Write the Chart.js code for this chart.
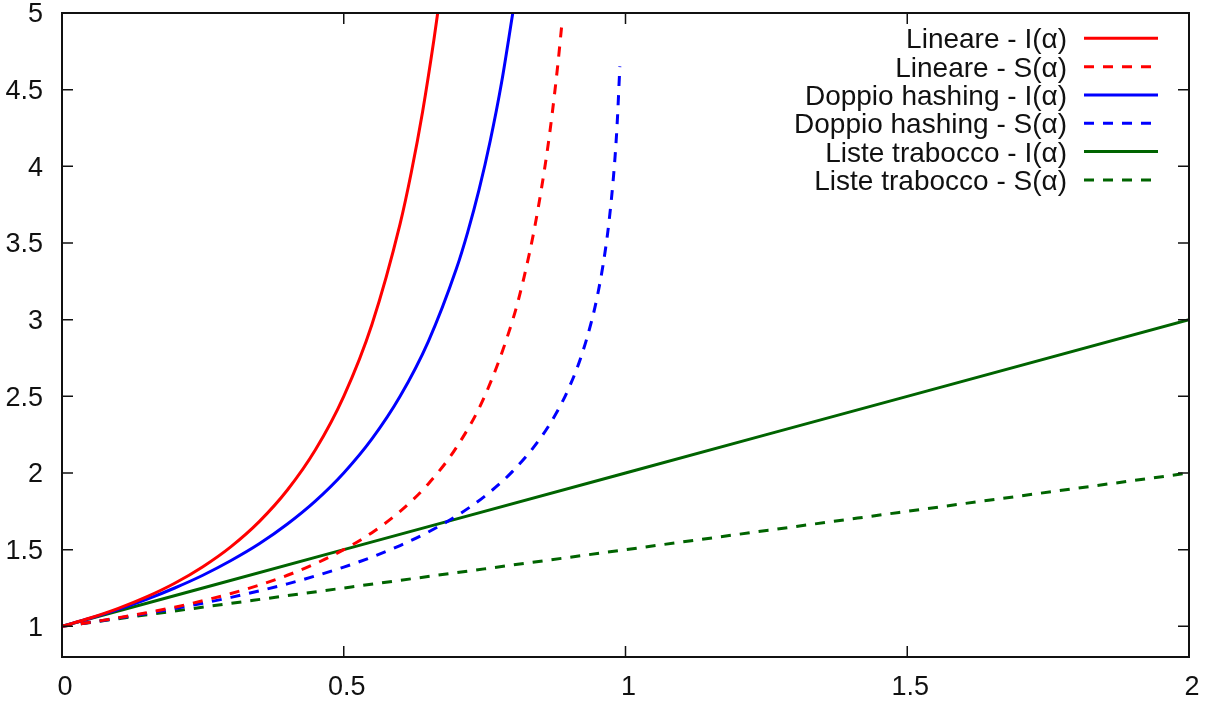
<!DOCTYPE html>
<html><head><meta charset="utf-8">
<script src="https://cdn.jsdelivr.net/npm/chart.js@4"></script>
<style>html,body{margin:0;padding:0;background:#fff}#wrap{width:1210px;height:703px}canvas{display:block}</style>
</head><body><div id="wrap"><canvas id="c" width="1210" height="703"></canvas></div>
<script>
// ---- data ----
const xTicks = [0, 0.5, 1, 1.5, 2];
const yTicks = [1, 1.5, 2, 2.5, 3, 3.5, 4, 4.5, 5];
const seriesLabels = [
  'Lineare - I(\u03b1)', 'Lineare - S(\u03b1)',
  'Doppio hashing - I(\u03b1)', 'Doppio hashing - S(\u03b1)',
  'Liste trabocco - I(\u03b1)', 'Liste trabocco - S(\u03b1)'
];
const linIx = [0, 0.05, 0.1, 0.15, 0.2, 0.25, 0.3, 0.35, 0.4, 0.45, 0.5, 0.55, 0.6, 0.62, 0.64, 0.66, 0.6667];
const linIy = [1, 1.054, 1.117, 1.192, 1.281, 1.389, 1.520, 1.683, 1.889, 2.153, 2.5, 2.969, 3.625, 3.963, 4.358, 4.825, 5.0];
const linSx = [0, 0.05, 0.1, 0.15, 0.2, 0.25, 0.3, 0.35, 0.4, 0.45, 0.5, 0.55, 0.6, 0.65, 0.7, 0.75, 0.8, 0.82, 0.84, 0.86, 0.87, 0.88, 0.887];
const linSy = [1, 1.026, 1.056, 1.088, 1.125, 1.167, 1.214, 1.269, 1.333, 1.409, 1.5, 1.611, 1.75, 1.929, 2.167, 2.5, 3.0, 3.278, 3.625, 4.071, 4.346, 4.667, 4.925];
const dblIx = [0, 0.05, 0.1, 0.15, 0.2, 0.25, 0.3, 0.35, 0.4, 0.45, 0.5, 0.55, 0.6, 0.65, 0.7, 0.72, 0.74, 0.76, 0.78, 0.8];
const dblIy = [1, 1.053, 1.111, 1.176, 1.25, 1.333, 1.429, 1.538, 1.667, 1.818, 2.0, 2.222, 2.5, 2.857, 3.333, 3.571, 3.846, 4.167, 4.545, 5.0];
const dblSx = [0, 0.05, 0.1, 0.15, 0.2, 0.25, 0.3, 0.35, 0.4, 0.45, 0.5, 0.55, 0.6, 0.65, 0.7, 0.75, 0.8, 0.85, 0.88, 0.9, 0.92, 0.94, 0.95, 0.96, 0.97, 0.98, 0.985, 0.99];
const dblSy = [1, 1.026, 1.054, 1.084, 1.116, 1.151, 1.189, 1.231, 1.277, 1.329, 1.386, 1.452, 1.527, 1.615, 1.720, 1.848, 2.012, 2.232, 2.409, 2.558, 2.745, 2.993, 3.153, 3.353, 3.615, 3.992, 4.264, 4.652];
const lstIx = [0, 0.5, 1, 1.5, 2];
const lstIy = [1, 1.5, 2, 2.5, 3];
const lstSx = [0, 0.5, 1, 1.5, 2];
const lstSy = [1, 1.25, 1.5, 1.75, 2];

// ---- styles ----
const RED = '#ff0000', BLUE = '#0000ff', GREEN = '#006400';
const DASH = [10, 9];
const FONT = 'Liberation Sans, Arial, Helvetica, sans-serif';
const pts = (xs, ys) => xs.map((x, i) => ({x: x, y: ys[i]}));
const mk = (i, xs, ys, color, dash) => ({
  label: seriesLabels[i], data: pts(xs, ys), borderColor: color, backgroundColor: color,
  borderWidth: 3, borderDash: dash, showLine: true, pointRadius: 0, pointHoverRadius: 0,
  cubicInterpolationMode: 'monotone', fill: false, borderCapStyle: 'butt'
});

const framePlugin = {
  id: 'frame',
  afterDatasetsDraw(chart) {
    const {ctx, chartArea: a, scales} = chart;
    ctx.save();
    ctx.strokeStyle = '#111';
    ctx.lineWidth = 1.5;
    const L = 11;
    ctx.beginPath();
    xTicks.forEach(v => {
      const px = scales.x.getPixelForValue(v);
      ctx.moveTo(px, a.bottom); ctx.lineTo(px, a.bottom - L);
      ctx.moveTo(px, a.top); ctx.lineTo(px, a.top + L);
    });
    yTicks.forEach(v => {
      const py = scales.y.getPixelForValue(v);
      ctx.moveTo(a.left, py); ctx.lineTo(a.left + L, py);
      ctx.moveTo(a.right, py); ctx.lineTo(a.right - L, py);
    });
    ctx.stroke();
    ctx.lineWidth = 2;
    ctx.strokeRect(a.left, a.top, a.right - a.left, a.bottom - a.top);
    ctx.restore();
  },
  afterDraw(chart) {
    const ctx = chart.ctx;
    ctx.save();
    ctx.font = '28px ' + FONT;
    ctx.textAlign = 'right';
    ctx.textBaseline = 'alphabetic';
    chart.data.datasets.forEach((ds, i) => {
      const yc = 38.3 + i * 28.33;
      ctx.fillStyle = '#111';
      ctx.fillText(ds.label, 1067, yc + 10);
      ctx.strokeStyle = ds.borderColor;
      ctx.lineWidth = 3;
      ctx.setLineDash(ds.borderDash || []);
      ctx.beginPath();
      ctx.moveTo(1084, yc); ctx.lineTo(1158, yc);
      ctx.stroke();
      ctx.setLineDash([]);
    });
    ctx.restore();
  }
};

new Chart(document.getElementById('c'), {
  type: 'scatter',
  data: {
    datasets: [
      mk(0, linIx, linIy, RED, []),
      mk(1, linSx, linSy, RED, DASH),
      mk(2, dblIx, dblIy, BLUE, []),
      mk(3, dblSx, dblSy, BLUE, DASH),
      mk(4, lstIx, lstIy, GREEN, []),
      mk(5, lstSx, lstSy, GREEN, DASH)
    ]
  },
  options: {
    responsive: false, animation: false, devicePixelRatio: 1,
    layout: {padding: {top: 13, right: 21, left: 0, bottom: 0}},
    plugins: {legend: {display: false}, tooltip: {enabled: false}},
    events: [],
    scales: {
      x: {
        type: 'linear', position: 'bottom', min: 0, max: 2,
        afterBuildTicks: s => { s.ticks = xTicks.map(v => ({value: v})); },
        afterFit: s => { s.height = 46; s.paddingLeft = 0; s.paddingRight = 0; },
        grid: {display: false, drawTicks: false}, border: {display: false},
        ticks: {font: {family: FONT, size: 27}, color: '#111', padding: 14, labelOffset: 3,
                maxRotation: 0, autoSkip: false, callback: v => String(v)}
      },
      y: {
        type: 'linear', position: 'left', min: 0.8, max: 5,
        afterBuildTicks: s => { s.ticks = yTicks.map(v => ({value: v})); },
        afterFit: s => { s.width = 62; s.paddingTop = 0; s.paddingBottom = 0; },
        grid: {display: false, drawTicks: false}, border: {display: false},
        ticks: {font: {family: FONT, size: 27}, color: '#111', padding: 19, labelOffset: 2,
                autoSkip: false, callback: v => String(v)}
      }
    }
  },
  plugins: [framePlugin]
});
</script></body></html>
